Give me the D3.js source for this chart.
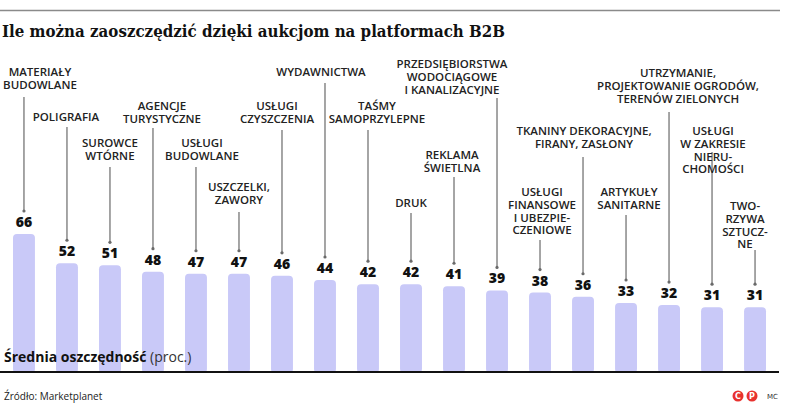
<!DOCTYPE html>
<html lang="pl">
  <head>
    <meta charset="UTF-8" />
    <title>Ile można zaoszczędzić dzięki aukcjom na platformach B2B</title>
    <style>
      body { margin: 0; background: #fff; }
      svg { display: block; }
      .cat { font-family: "Open Sans", sans-serif; font-size: 11.5px; font-weight: 600; fill: #222; text-anchor: middle; }
      .val { font-family: "Open Sans", sans-serif; font-size: 14px; font-weight: 800; fill: #111; text-anchor: middle; }
    </style>
  </head>
  <body>
    <script src="https://d3js.org/d3.v7.min.js"></script>
    <svg id="chart" width="794" height="408"></svg>
    <script>
      // categories (line breaks as in the original labels)
      var categories = [
        ["MATERIAŁY", "BUDOWLANE"],
        ["POLIGRAFIA"],
        ["SUROWCE", "WTÓRNE"],
        ["AGENCJE", "TURYSTYCZNE"],
        ["USŁUGI", "BUDOWLANE"],
        ["USZCZELKI,", "ZAWORY"],
        ["USŁUGI", "CZYSZCZENIA"],
        ["WYDAWNICTWA"],
        ["TAŚMY", "SAMOPRZYLEPNE"],
        ["DRUK"],
        ["REKLAMA", "ŚWIETLNA"],
        ["PRZEDSIĘBIORSTWA", "WODOCIĄGOWE", "I KANALIZACYJNE"],
        ["USŁUGI", "FINANSOWE", "I UBEZPIE-", "CZENIOWE"],
        ["TKANINY DEKORACYJNE,", "FIRANY, ZASŁONY"],
        ["ARTYKUŁY", "SANITARNE"],
        ["UTRZYMANIE,", "PROJEKTOWANIE OGRODÓW,", "TERENÓW ZIELONYCH"],
        ["USŁUGI", "W ZAKRESIE", "NIERU-", "CHOMOŚCI"],
        ["TWO-", "RZYWA", "SZTUCZ-", "NE"]
      ];

      // average savings (percent)
      var values = [66, 52, 51, 48, 47, 47, 46, 44, 42, 42, 41, 39, 38, 36, 33, 32, 31, 31];

      // label placement: horizontal shift, y of first line, y where leader starts
      var labelDx    = [16, -1, 0, 9, 6, 0, -5, -4, 9, 0, -2, -45, 2, 1, 3, 9, 1, -10];
      var labelTop   = [72, 117, 143, 106, 143, 187, 106, 72, 106, 203, 155, 64, 192, 131, 192, 73, 131, 206];
      var leaderTop  = [97, 127, 167, 128, 167, 212, 130, 83, 130, 213, 177, 98, 240, 157, 215, 112, 152, 250];

      var svg = d3.select("#chart");
      var baseY = 372;

      var x = d3.scaleBand()
        .domain(d3.range(values.length))
        .range([13, 766])
        .paddingInner(0.49)
        .paddingOuter(0);

      var y = d3.scaleLinear().domain([0, 66]).range([baseY, 234]);

      var cx = function (i) { return x(i) + x.bandwidth() / 2; };

      // top rule
      svg.append("line")
        .attr("x1", 0).attr("x2", 780)
        .attr("y1", 10.5).attr("y2", 10.5)
        .attr("stroke", "#8a8a8a").attr("stroke-width", 1.5);

      // title
      svg.append("text")
        .attr("x", 2).attr("y", 37)
        .attr("textLength", 503).attr("lengthAdjust", "spacingAndGlyphs")
        .style("font-family", "'DejaVu Serif', serif")
        .style("font-weight", "bold")
        .style("font-size", "16.5px")
        .style("fill", "#111")
        .text("Ile można zaoszczędzić dzięki aukcjom na platformach B2B");

      // bars
      svg.append("g").selectAll("rect")
        .data(values)
        .join("rect")
        .attr("x", function (d, i) { return x(i); })
        .attr("y", function (d) { return y(d); })
        .attr("width", x.bandwidth())
        .attr("height", function (d) { return baseY - y(d) + 1; })
        .attr("rx", 4)
        .attr("fill", "#c9c9f8");

      // leader lines with dots
      var leaders = svg.append("g");
      values.forEach(function (d, i) {
        var endY = y(d) - 23;
        leaders.append("line")
          .attr("x1", cx(i)).attr("x2", cx(i))
          .attr("y1", leaderTop[i]).attr("y2", endY)
          .attr("stroke", "#6a6a6a").attr("stroke-width", 1.2);
        leaders.append("circle")
          .attr("cx", cx(i)).attr("cy", endY)
          .attr("r", 1.6).attr("fill", "#6a6a6a");
      });

      // values
      svg.append("g").selectAll("text")
        .data(values)
        .join("text")
        .attr("class", "val")
        .attr("x", function (d, i) { return cx(i); })
        .attr("y", function (d) { return y(d) - 7; })
        .text(function (d) { return d; });

      // category labels
      var labels = svg.append("g");
      categories.forEach(function (lines, i) {
        var t = labels.append("text").attr("class", "cat");
        lines.forEach(function (s, j) {
          t.append("tspan")
            .attr("x", cx(i) + labelDx[i])
            .attr("y", labelTop[i] + 4 + j * 12.8)
            .text(s);
        });
      });

      // baseline
      svg.append("line")
        .attr("x1", 0).attr("x2", 779)
        .attr("y1", baseY).attr("y2", baseY)
        .attr("stroke", "#111").attr("stroke-width", 2);

      // axis caption
      var cap = svg.append("text")
        .attr("x", 4).attr("y", 362)
        .style("font-family", "'Open Sans', sans-serif")
        .style("font-size", "14px")
        .style("fill", "#111");
      cap.append("tspan").style("font-weight", "bold").text("Średnia oszczędność");
      cap.append("tspan").style("fill", "#333").text(" (proc.)");

      // source
      svg.append("text")
        .attr("x", 4).attr("y", 400)
        .style("font-family", "'Open Sans', sans-serif")
        .style("font-size", "10px")
        .style("fill", "#222")
        .text("Źródło: Marketplanet");

      // logo
      [["C", 738], ["P", 752]].forEach(function (l) {
        svg.append("circle").attr("cx", l[1]).attr("cy", 396).attr("r", 5.5).attr("fill", "#e8322e");
        svg.append("text")
          .attr("x", l[1]).attr("y", 399)
          .attr("text-anchor", "middle")
          .style("font-family", "'DejaVu Sans', sans-serif")
          .style("font-size", "8px").style("font-weight", "bold")
          .style("fill", "#fff")
          .text(l[0]);
      });
      svg.append("text")
        .attr("x", 767).attr("y", 399)
        .style("font-family", "'DejaVu Sans', sans-serif")
        .style("font-size", "7px")
        .style("fill", "#333")
        .text("MC");
    </script>
  </body>
</html>
